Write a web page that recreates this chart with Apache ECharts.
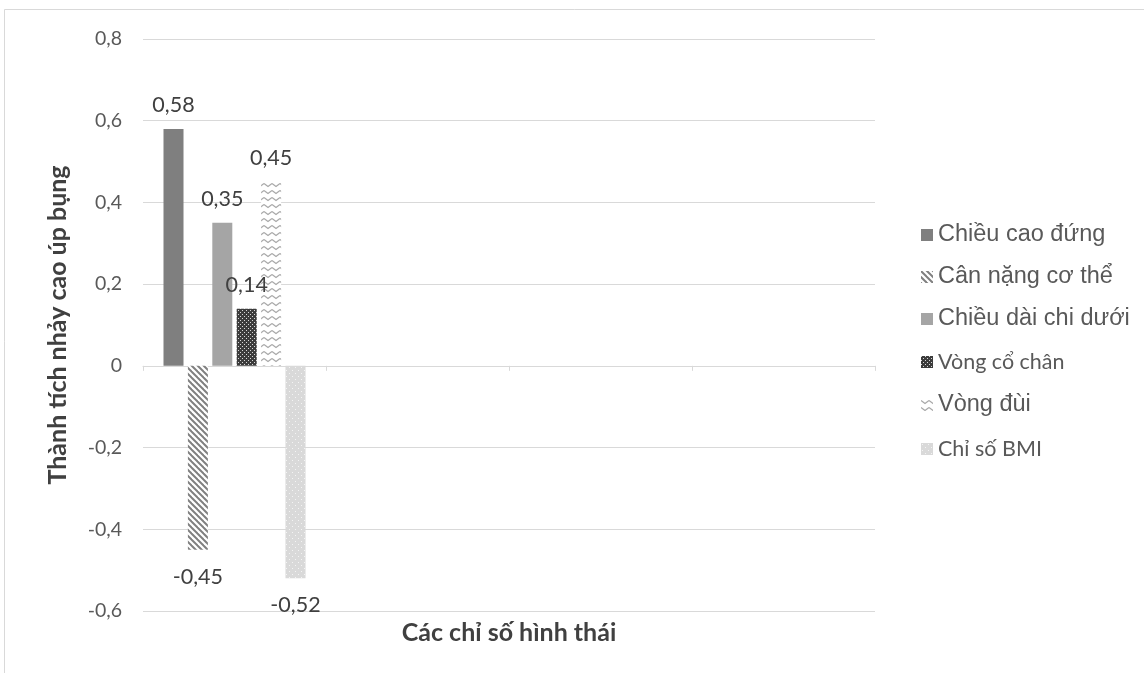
<!DOCTYPE html>
<html>
<head>
<meta charset="utf-8">
<script src="https://cdn.jsdelivr.net/npm/echarts@6/dist/echarts.min.js"></script>
<style>
html,body{margin:0;padding:0;background:#fff;}
#chart{width:1144px;height:673px;}
</style>
</head>
<body>
<div id="chart"></div>
<script>
// ---- data ----
const categories = ['Nhóm 1', 'Nhóm 2', 'Nhóm 3', 'Nhóm 4'];
const seriesNames = ['Chiều cao đứng', 'Cân nặng cơ thể', 'Chiều dài chi dưới', 'Vòng cổ chân', 'Vòng đùi', 'Chỉ số BMI'];
const chieuCaoDung = [0.58, null, null, null];
const canNangCoThe = [-0.45, null, null, null];
const chieuDaiChiDuoi = [0.35, null, null, null];
const vongCoChan = [0.14, null, null, null];
const vongDui = [0.45, null, null, null];
const chiSoBMI = [-0.52, null, null, null];
const yTicks = { min: -0.6, max: 0.8, interval: 0.2 };
const yAxisName = 'Thành tích nhảy cao úp bụng';
const xAxisName = 'Các chỉ số hình thái';

// ---- patterns ----
function makeCanvas(w, h, draw) {
  const c = document.createElement('canvas');
  c.width = w; c.height = h;
  const ctx = c.getContext('2d');
  draw(ctx, w, h);
  return c;
}
const stripePattern = makeCanvas(6, 6, (ctx, w, h) => {
  ctx.fillStyle = '#ffffff'; ctx.fillRect(0, 0, w, h);
  ctx.strokeStyle = '#808080'; ctx.lineWidth = 2;
  for (let k = -2; k <= 2; k++) {
    ctx.beginPath();
    ctx.moveTo(k * 6 - 1, -1);
    ctx.lineTo(k * 6 + 7, 7);
    ctx.stroke();
  }
});
const checkerPattern = makeCanvas(4, 4, (ctx, w, h) => {
  ctx.fillStyle = '#3c3c3c'; ctx.fillRect(0, 0, w, h);
  ctx.fillStyle = '#d8d8d8';
  ctx.fillRect(0, 0, 1, 1);
  ctx.fillRect(2, 2, 1, 1);
});
const wavePattern = makeCanvas(8, 7, (ctx, w, h) => {
  ctx.fillStyle = '#ffffff'; ctx.fillRect(0, 0, w, h);
  ctx.strokeStyle = '#a8a8a8'; ctx.lineWidth = 1.2;
  ctx.beginPath();
  ctx.moveTo(0, 1.5); ctx.lineTo(4, 4.5); ctx.lineTo(8, 1.5);
  ctx.stroke();
});
const dotPattern = makeCanvas(6, 6, (ctx, w, h) => {
  ctx.fillStyle = '#d9d9d9'; ctx.fillRect(0, 0, w, h);
  ctx.fillStyle = '#f4f4f4';
  ctx.fillRect(1, 1, 1, 1);
  ctx.fillRect(4, 4, 1, 1);
});
const fills = [
  '#7f7f7f',
  { image: stripePattern, repeat: 'repeat' },
  '#a5a5a5',
  { image: checkerPattern, repeat: 'repeat' },
  { image: wavePattern, repeat: 'repeat' },
  { image: dotPattern, repeat: 'repeat' }
];
const seriesData = [chieuCaoDung, canNangCoThe, chieuDaiChiDuoi, vongCoChan, vongDui, chiSoBMI];

const fmt = v => {
  if (Math.abs(v) < 1e-9) return '0';
  return (Math.round(v * 100) / 100).toString().replace('.', ',');
};

const calibri = 'Lato, "Open Sans", sans-serif';
const arial = '"Liberation Sans", Arial, sans-serif';
const legendFonts = [
  { fontFamily: arial, fontSize: 23.5 },
  { fontFamily: arial, fontSize: 23.5 },
  { fontFamily: arial, fontSize: 23.5 },
  { fontFamily: calibri, fontSize: 21.5, lineHeight: 26 },
  { fontFamily: arial, fontSize: 23.5 },
  { fontFamily: calibri, fontSize: 21.5, lineHeight: 28 }
];

const chart = echarts.init(document.getElementById('chart'), null, { renderer: 'canvas' });
const option = {
  backgroundColor: '#ffffff',
  animation: false,
  graphic: [{
    type: 'rect',
    shape: { x: 4.5, y: 9.5, width: 1300, height: 800 },
    style: { fill: 'none', stroke: '#d9d9d9', lineWidth: 1 },
    silent: true
  }, {
    type: 'text',
    x: 509,
    y: 633,
    style: {
      text: xAxisName,
      fill: '#404040',
      font: 'bold 25px Lato, "Open Sans", sans-serif',
      textAlign: 'center',
      textVerticalAlign: 'middle'
    },
    silent: true
  }],
  grid: { left: 143, right: 269, top: 39, bottom: 62, containLabel: false, outerBoundsMode: 'none' },
  legend: {
    orient: 'vertical',
    left: 916,
    top: 218,
    itemWidth: 12,
    itemHeight: 12,
    itemGap: 18,
    icon: 'rect',
    textStyle: { color: '#595959' },
    data: seriesNames.map((n, i) => ({ name: n, textStyle: Object.assign({ color: '#595959' }, legendFonts[i]) }))
  },
  xAxis: {
    type: 'category',
    data: categories,
    axisLine: { onZero: true, lineStyle: { color: '#d9d9d9', width: 1 } },
    axisTick: { show: true, length: 5, alignWithLabel: false, lineStyle: { color: '#d9d9d9' } },
    axisLabel: { show: false },
    splitLine: { show: false }
  },
  yAxis: {
    type: 'value',
    min: yTicks.min,
    max: yTicks.max,
    interval: yTicks.interval,
    name: yAxisName,
    nameLocation: 'middle',
    nameGap: 73,
    nameTextStyle: { fontFamily: calibri, fontWeight: 'bold', fontSize: 25, color: '#404040' },
    axisLine: { show: false },
    axisTick: { show: false },
    axisLabel: { formatter: v => fmt(v), color: '#595959', fontFamily: calibri, fontSize: 19.5, margin: 21 },
    splitLine: { lineStyle: { color: '#d9d9d9', width: 1 } }
  },
  series: seriesNames.map((n, i) => ({
    name: n,
    type: 'bar',
    barWidth: 20,
    barGap: '22%',
    itemStyle: { color: fills[i] },
    label: {
      show: true,
      color: '#404040',
      fontFamily: calibri,
      fontSize: 21.5,
      formatter: p => fmt(p.value)
    },
    data: seriesData[i].map(v => v === null ? null : ({
      value: v,
      label: { position: v < 0 ? 'bottom' : 'top', distance: v < 0 ? 16 : 13 }
    }))
  }))
};
chart.setOption(option);
</script>
</body>
</html>
